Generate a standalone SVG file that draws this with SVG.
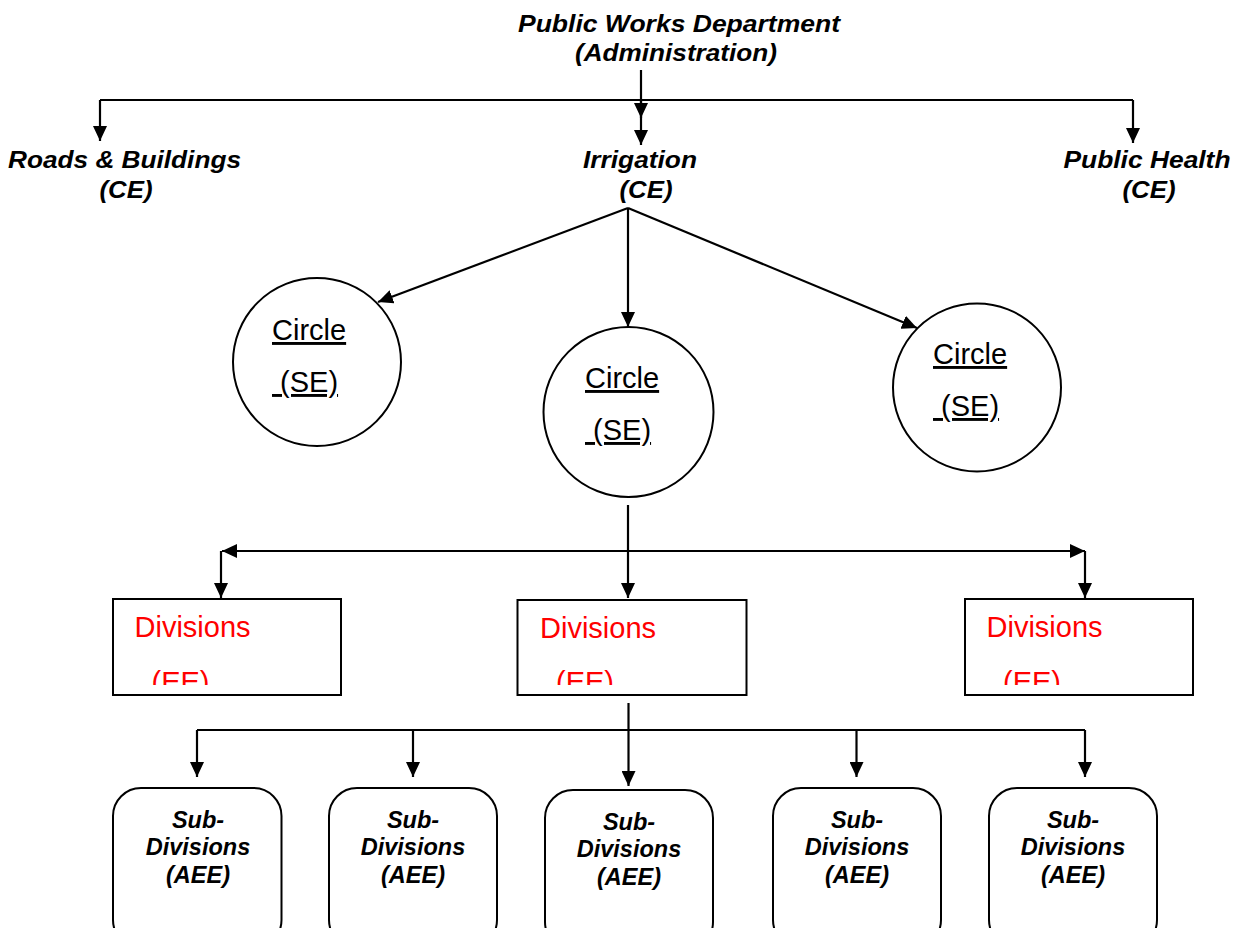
<svg xmlns="http://www.w3.org/2000/svg" width="1238" height="928" viewBox="0 0 1238 928">
  <style>
    .hdr { font-family: "Liberation Sans", Arial, sans-serif; font-size: 24px; font-weight: bold; font-style: italic; fill: #000; text-anchor: middle; }
    .circ { font-family: "Liberation Sans", Arial, sans-serif; font-size: 29px; fill: #000; text-decoration: underline; }
    .div { font-family: "Liberation Sans", Arial, sans-serif; font-size: 29px; fill: #ff0000; }
    .sub { font-family: "Liberation Sans", Arial, sans-serif; font-size: 23.5px; font-weight: bold; font-style: italic; fill: #000; text-anchor: middle; }
    .shape { fill: #fff; stroke: #000; stroke-width: 2; }
    .wire { fill: none; stroke: #000; stroke-width: 2.2; }
    .arr { marker-end: url(#head); }
  </style>
  <defs>
    <marker id="head" viewBox="0 0 15 14" refX="15" refY="7" markerWidth="15" markerHeight="14" markerUnits="userSpaceOnUse" orient="auto-start-reverse">
      <path d="M0,0 L15,7 L0,14 Z" fill="#000"/>
    </marker>
    <clipPath id="cut">
      <rect x="0" y="0" width="1238" height="685"/>
    </clipPath>
  </defs>

  <rect width="1238" height="928" fill="#fff"/>

  <!-- Top header -->
  <g id="pwd">
    <text class="hdr" x="679" y="32" textLength="322" lengthAdjust="spacingAndGlyphs">Public Works Department</text>
    <text class="hdr" x="676" y="61" textLength="202" lengthAdjust="spacingAndGlyphs">(Administration)</text>
  </g>

  <!-- Chief Engineer branches -->
  <g id="roads">
    <text class="hdr" x="124.5" y="168" textLength="233" lengthAdjust="spacingAndGlyphs">Roads &amp; Buildings</text>
    <text class="hdr" x="126" y="198" textLength="53" lengthAdjust="spacingAndGlyphs">(CE)</text>
  </g>
  <g id="irrigation">
    <text class="hdr" x="640" y="168" textLength="114" lengthAdjust="spacingAndGlyphs">Irrigation</text>
    <text class="hdr" x="646" y="198" textLength="53" lengthAdjust="spacingAndGlyphs">(CE)</text>
  </g>
  <g id="health">
    <text class="hdr" x="1147" y="168" textLength="167" lengthAdjust="spacingAndGlyphs">Public Health</text>
    <text class="hdr" x="1149" y="198" textLength="53" lengthAdjust="spacingAndGlyphs">(CE)</text>
  </g>

  <!-- Circles (SE) -->
  <g id="circle-left">
    <circle class="shape" cx="317" cy="362" r="84"/>
    <text class="circ" x="272" y="340">Circle</text>
    <text class="circ" x="272" y="392" xml:space="preserve"> (SE)</text>
  </g>
  <g id="circle-mid">
    <circle class="shape" cx="628.5" cy="412" r="85"/>
    <text class="circ" x="585" y="388">Circle</text>
    <text class="circ" x="585" y="440" xml:space="preserve"> (SE)</text>
  </g>
  <g id="circle-right">
    <circle class="shape" cx="977" cy="387.5" r="84"/>
    <text class="circ" x="933" y="364">Circle</text>
    <text class="circ" x="933" y="416" xml:space="preserve"> (SE)</text>
  </g>

  <!-- Divisions (EE) -->
  <g id="div-left">
    <rect class="shape" x="113" y="599" width="228" height="96"/>
    <text class="div" x="134.5" y="637">Divisions</text>
    <text class="div" x="151.5" y="692" clip-path="url(#cut)">(EE)</text>
  </g>
  <g id="div-mid">
    <rect class="shape" x="517.5" y="600" width="229" height="95"/>
    <text class="div" x="540" y="637.5">Divisions</text>
    <text class="div" x="556" y="692" clip-path="url(#cut)">(EE)</text>
  </g>
  <g id="div-right">
    <rect class="shape" x="965" y="599" width="228" height="96"/>
    <text class="div" x="986.5" y="636.5">Divisions</text>
    <text class="div" x="1003" y="692" clip-path="url(#cut)">(EE)</text>
  </g>

  <!-- Sub-Divisions (AEE) -->
  <g id="sub-1">
    <rect class="shape" x="113" y="788" width="168.5" height="160" rx="28"/>
    <text class="sub" x="198" y="828">Sub-</text>
    <text class="sub" x="198" y="855">Divisions</text>
    <text class="sub" x="198" y="883">(AEE)</text>
  </g>
  <g id="sub-2">
    <rect class="shape" x="329" y="788" width="168" height="160" rx="28"/>
    <text class="sub" x="413" y="828">Sub-</text>
    <text class="sub" x="413" y="855">Divisions</text>
    <text class="sub" x="413" y="883">(AEE)</text>
  </g>
  <g id="sub-3">
    <rect class="shape" x="545" y="790" width="168" height="160" rx="28"/>
    <text class="sub" x="629" y="830">Sub-</text>
    <text class="sub" x="629" y="857">Divisions</text>
    <text class="sub" x="629" y="885">(AEE)</text>
  </g>
  <g id="sub-4">
    <rect class="shape" x="773" y="788" width="168" height="160" rx="28"/>
    <text class="sub" x="857" y="828">Sub-</text>
    <text class="sub" x="857" y="855">Divisions</text>
    <text class="sub" x="857" y="883">(AEE)</text>
  </g>
  <g id="sub-5">
    <rect class="shape" x="989" y="788" width="168" height="160" rx="28"/>
    <text class="sub" x="1073" y="828">Sub-</text>
    <text class="sub" x="1073" y="855">Divisions</text>
    <text class="sub" x="1073" y="883">(AEE)</text>
  </g>

  <!-- Connectors -->
  <g id="connectors" class="wire">
    <!-- Department to chief engineers -->
    <line class="arr" x1="641" y1="70" x2="641" y2="118"/>
    <line x1="100" y1="100" x2="1133" y2="100"/>
    <line class="arr" x1="100" y1="100" x2="100" y2="141"/>
    <line class="arr" x1="641" y1="100" x2="641" y2="145"/>
    <line class="arr" x1="1133" y1="100" x2="1133" y2="143"/>

    <!-- Irrigation to circles -->
    <line class="arr" x1="628" y1="208" x2="378" y2="302"/>
    <line class="arr" x1="628" y1="208" x2="628" y2="327"/>
    <line class="arr" x1="628" y1="208" x2="917" y2="328"/>

    <!-- Circle to divisions -->
    <line x1="628" y1="505" x2="628" y2="551"/>
    <line x1="222" y1="551" x2="1085" y2="551" marker-start="url(#head)" marker-end="url(#head)"/>
    <line class="arr" x1="628" y1="551" x2="628" y2="598"/>
    <line class="arr" x1="221" y1="551" x2="221" y2="598"/>
    <line class="arr" x1="1085" y1="551" x2="1085" y2="598"/>

    <!-- Division to sub-divisions -->
    <line class="arr" x1="628.5" y1="703" x2="628.5" y2="786"/>
    <line x1="197" y1="730" x2="1085" y2="730"/>
    <line class="arr" x1="197" y1="730" x2="197" y2="777"/>
    <line class="arr" x1="413" y1="730" x2="413" y2="777"/>
    <line class="arr" x1="856.5" y1="730" x2="856.5" y2="777"/>
    <line class="arr" x1="1085" y1="730" x2="1085" y2="777"/>
  </g>
</svg>
